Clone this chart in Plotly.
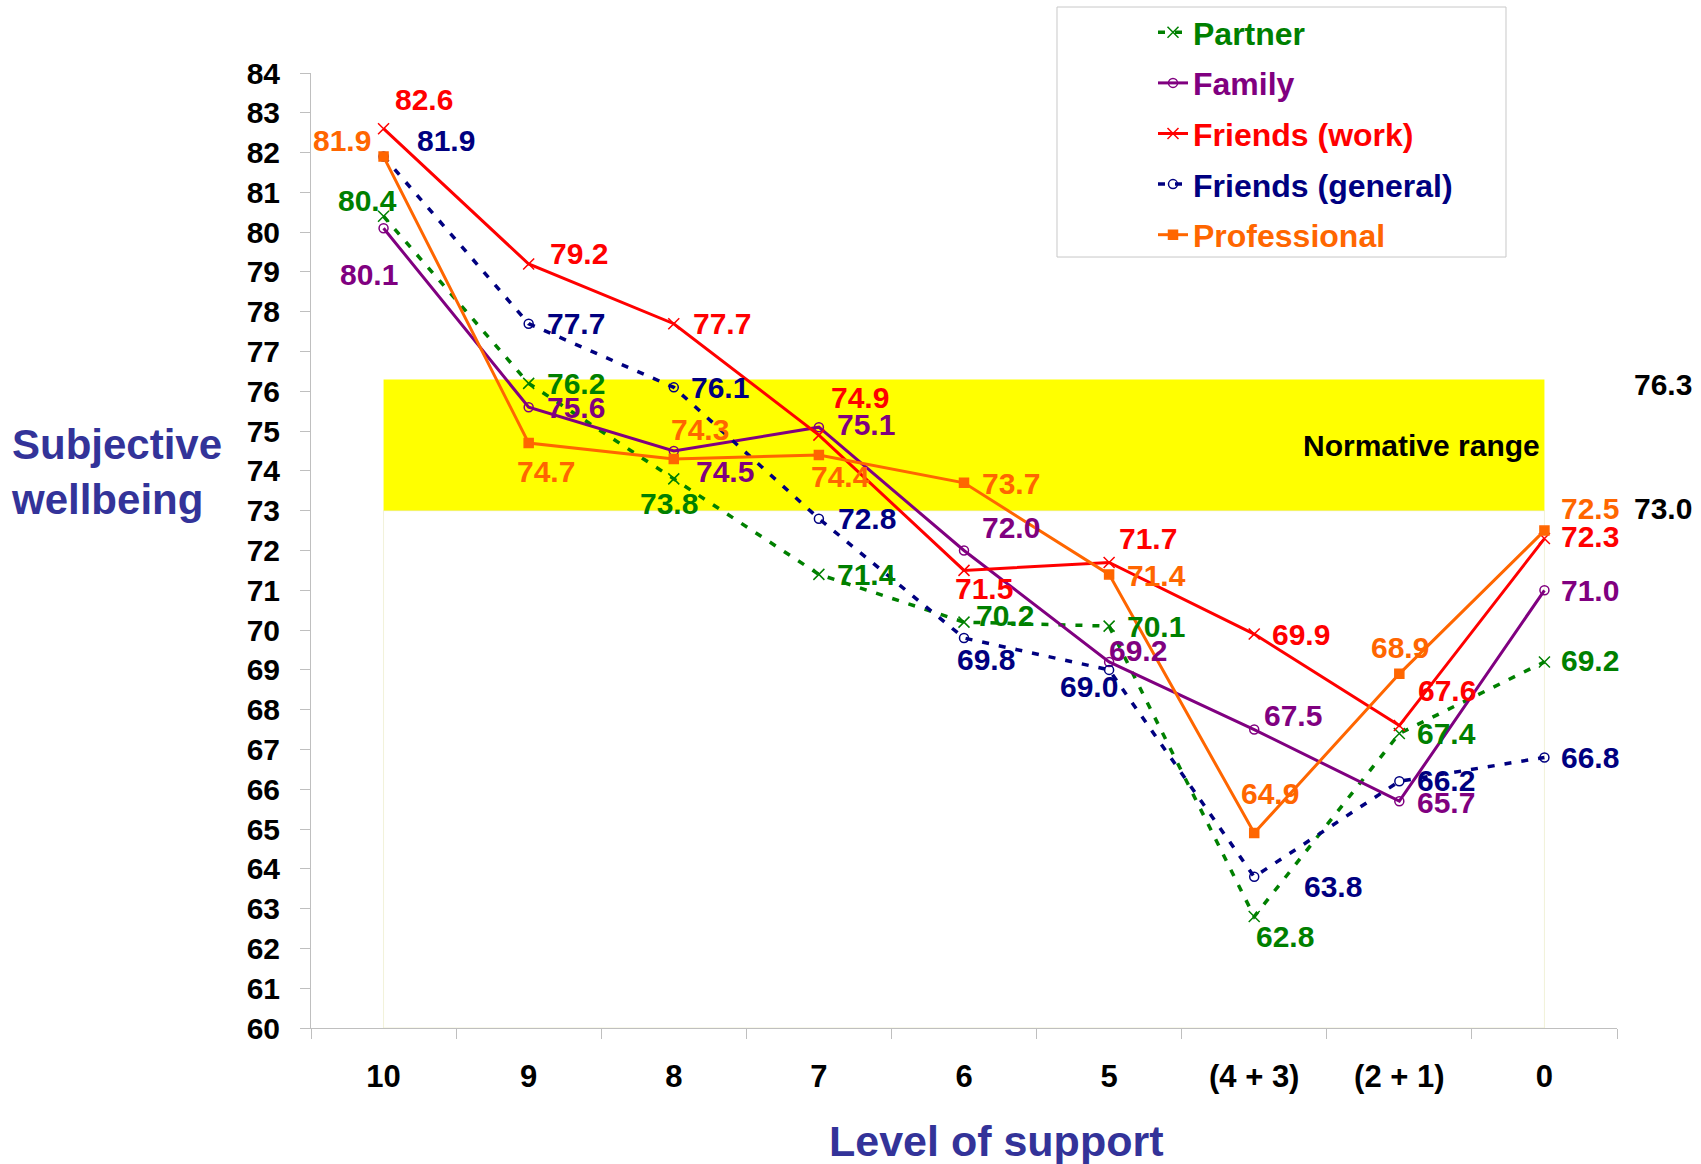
import plotly.graph_objects as go

# ---- data -------------------------------------------------------------
levels = ["10", "9", "8", "7", "6", "5", "(4 + 3)", "(2 + 1)", "0"]

partner = [80.4, 76.2, 73.8, 71.4, 70.2, 70.1, 62.8, 67.4, 69.2]
family = [80.1, 75.6, 74.5, 75.1, 72.0, 69.2, 67.5, 65.7, 71.0]
friends_work = [82.6, 79.2, 77.7, 74.9, 71.5, 71.7, 69.9, 67.6, 72.3]
friends_general = [81.9, 77.7, 76.1, 72.8, 69.8, 69.0, 63.8, 66.2, 66.8]
professional = [81.9, 74.7, 74.3, 74.4, 73.7, 71.4, 64.9, 68.9, 72.5]

norm_low = 73.0
norm_high = 76.3

# ---- styling ----------------------------------------------------------
FONT = "Liberation Sans, Arial, sans-serif"
TITLE_BLUE = "#333399"

# label offsets in pixels (dx right, dy down) for each value label
label_offsets = {
    "Partner": [(-16, -16), (47, 0), (-5, 25), (48, 0), (41, -7), (47, 0), (31, 20), (47, 0), (46, -1)],
    "Family": [(-15, 46), (47, 0), (51, 20), (47, -3), (47, -23), (29, -11), (39, -14), (47, 1), (46, 0)],
    "Friends (work)": [(40, -29), (50, -11), (48, 0), (41, -38), (20, 18), (39, -24), (47, 0), (48, -35), (46, -2)],
    "Friends (general)": [(62, -16), (47, 0), (46, 0), (48, 0), (22, 21), (-20, 17), (79, 10), (47, -1), (46, 0)],
    "Professional": [(-42, -16), (17, 28), (26, -29), (22, 21), (47, 1), (47, 1), (16, -40), (1, -26), (46, -22)],
}

series = [
    dict(name="Partner", y=partner, color="#008000", dash="7px,10px", width=3.5,
         symbol="x-thin-open", size=11),
    dict(name="Family", y=family, color="#800080", dash="solid", width=3,
         symbol="circle-open", size=9),
    dict(name="Friends (work)", y=friends_work, color="#FF0000", dash="solid", width=3,
         symbol="x-thin-open", size=11),
    dict(name="Friends (general)", y=friends_general, color="#000080", dash="7px,10px", width=3.5,
         symbol="circle-open", size=9),
    dict(name="Professional", y=professional, color="#FF6600", dash="solid", width=3,
         symbol="square", size=9),
]

fig = go.Figure()

for i, s in enumerate(series):
    fig.add_trace(go.Scatter(
        x=levels,
        y=s["y"],
        mode="lines+markers",
        name=f'<span style="color:{s["color"]}">{s["name"]}</span>',
        legendgroup=f"g{i}",
        line=dict(color=s["color"], width=s["width"], dash=s["dash"]),
        marker=dict(symbol=s["symbol"], size=s["size"], color=s["color"],
                    line=dict(color=s["color"], width=1.5)),
    ))

annotations = []
# value labels (annotations on a category axis are placed by category index)
for s in series:
    for idx, (val, (dx, dy)) in enumerate(zip(s["y"], label_offsets[s["name"]])):
        annotations.append(dict(
            x=idx, y=val, xref="x", yref="y", text=f"{val:.1f}",
            showarrow=False, xshift=dx, yshift=-dy,
            font=dict(family=FONT, size=30, color=s["color"], weight="bold"),
        ))

# normative range labels
annotations += [
    dict(x=len(levels) - 1, y=(norm_low + norm_high) / 2, xref="x", yref="y",
         text="Normative range", showarrow=False, xanchor="right", xshift=-2,
         font=dict(family=FONT, size=30, color="black", weight="bold")),
    dict(x=1.035, y=norm_high, xref="paper", yref="y", text=f"{norm_high:.1f}",
         showarrow=False, xanchor="center", yshift=-5,
         font=dict(family=FONT, size=30, color="black", weight="bold")),
    dict(x=1.035, y=norm_low, xref="paper", yref="y", text=f"{norm_low:.1f}",
         showarrow=False, xanchor="center", yshift=2,
         font=dict(family=FONT, size=30, color="black", weight="bold")),
    # axis titles
    dict(x=-0.231, y=0.582, xref="paper", yref="paper",
         text="Subjective<br>wellbeing", showarrow=False,
         xanchor="left", yanchor="middle", align="left",
         font=dict(family=FONT, size=42, color=TITLE_BLUE, weight="bold")),
    dict(x=0.5245, y=-0.118, xref="paper", yref="paper",
         text="Level of support", showarrow=False,
         xanchor="center", yanchor="middle",
         font=dict(family=FONT, size=43, color=TITLE_BLUE, weight="bold")),
]

shapes = [
    # normative band
    dict(type="rect", xref="x", yref="y", x0=0, x1=len(levels) - 1,
         y0=norm_low, y1=norm_high, fillcolor="#FFFF00",
         line=dict(width=0), layer="below"),
    # faint outline of the band's base area
    dict(type="rect", xref="x", yref="y", x0=0, x1=len(levels) - 1,
         y0=60, y1=norm_low, fillcolor="rgba(0,0,0,0)",
         line=dict(width=1, color="rgba(225,225,170,0.45)"), layer="below"),
    # legend frame
    dict(type="rect", xref="paper", yref="paper", x0=0.5712, x1=0.915,
         y0=0.8073, y1=1.0691, line=dict(width=1, color="#C8C8C8"),
         fillcolor="rgba(0,0,0,0)"),
]

fig.update_layout(
    width=1701, height=1164,
    margin=dict(l=311, r=84, t=73, b=136, autoexpand=False),
    paper_bgcolor="white", plot_bgcolor="white",
    showlegend=True,
    legend=dict(
        xref="container", yref="container",
        x=1153 / 1701, y=1 - 5 / 1164, xanchor="left", yanchor="top",
        font=dict(family=FONT, size=32, weight="bold"),
        tracegroupgap=6, bgcolor="rgba(0,0,0,0)", borderwidth=0,
        itemwidth=30,
    ),
    annotations=annotations,
    shapes=shapes,
)

fig.update_xaxes(
    type="category", categoryorder="array", categoryarray=levels,
    range=[-0.5, len(levels) - 0.5],
    showgrid=False, zeroline=False,
    showline=True, linecolor="#BFBFBF", linewidth=1,
    ticks="outside", tickson="boundaries", ticklen=10, tickcolor="#BFBFBF",
    ticklabelstandoff=21,
    tickfont=dict(family=FONT, size=31, color="black", weight="bold"),
)

fig.update_yaxes(
    range=[60, 84], dtick=1, tick0=60,
    showgrid=False, zeroline=False,
    showline=True, linecolor="#BFBFBF", linewidth=1,
    ticks="outside", ticklen=10, tickcolor="#BFBFBF",
    ticklabelstandoff=14,
    tickfont=dict(family=FONT, size=30, color="black", weight="bold"),
)

fig.write_html("out.html")
